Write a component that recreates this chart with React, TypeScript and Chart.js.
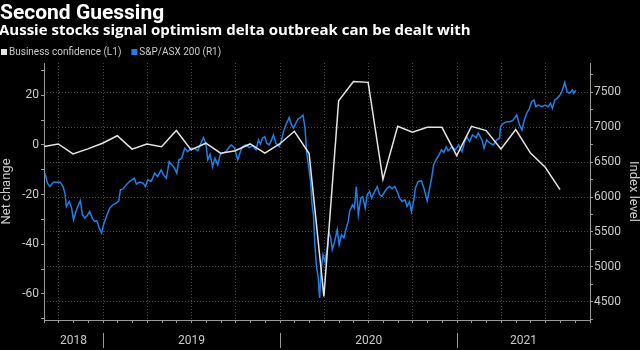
import React, { useEffect, useRef } from "react";
import { Chart, registerables } from "chart.js";

Chart.register(...registerables);

// ---------- DATA ----------
const TITLE = "Second Guessing";
const SUBTITLE = "Aussie stocks signal optimism delta outbreak can be dealt with";
const CONF_LABEL = "Business confidence (L1)";
const ASX_LABEL = "S&P/ASX 200 (R1)";
const LEFT_TITLE = "Net change";
const RIGHT_TITLE = "Index level";
const YEARS = [2018, 2019, 2020, 2021];

// x axis window (month-start dates)
const X_START = "2018-09-01";
const X_END = "2021-10-01";

// Business confidence, monthly (plotted at month end)
const confMonths = [
  "2018-08", "2018-09", "2018-10", "2018-11", "2018-12",
  "2019-01", "2019-02", "2019-03", "2019-04", "2019-05", "2019-06",
  "2019-07", "2019-08", "2019-09", "2019-10", "2019-11", "2019-12",
  "2020-01", "2020-02", "2020-03", "2020-04", "2020-05", "2020-06",
  "2020-07", "2020-08", "2020-09", "2020-10", "2020-11", "2020-12",
  "2021-01", "2021-02", "2021-03", "2021-04", "2021-05", "2021-06", "2021-07",
];
const confValues = [
  -0.7, 0.4, -3.6, -1.6, 0.7,
  3.7, -1.7, 0.4, -0.7, 5.8, -2.0,
  0.7, -3.3, -2.3, 0.4, -3.3, 0.4,
  5.5, -3.5, -61, 17.8, 25.5, 25.2,
  -13.9, 7.5, 5.1, 7.1, 7.1, -4.3,
  7.5, 5.8, -1.6, 6.2, -3.3, -9.0, -18.0,
];

// S&P/ASX 200 index level
const asxDates = [
  "2018-09-03", "2018-09-08", "2018-09-13", "2018-09-20", "2018-09-30", "2018-10-04", "2018-10-10", "2018-10-14",
  "2018-10-17", "2018-10-23", "2018-10-28", "2018-11-01", "2018-11-06", "2018-11-11", "2018-11-15", "2018-11-19",
  "2018-11-24", "2018-11-29", "2018-12-04", "2018-12-10", "2018-12-15", "2018-12-19", "2018-12-24", "2018-12-29",
  "2019-01-02", "2019-01-08", "2019-01-15", "2019-01-22", "2019-01-29", "2019-02-03", "2019-02-06", "2019-02-11",
  "2019-02-17", "2019-02-23", "2019-03-05", "2019-03-09", "2019-03-16", "2019-03-23", "2019-03-28", "2019-04-02",
  "2019-04-09", "2019-04-16", "2019-04-22", "2019-04-29", "2019-05-04", "2019-05-10", "2019-05-13", "2019-05-16",
  "2019-05-22", "2019-05-27", "2019-06-01", "2019-06-05", "2019-06-11", "2019-06-17", "2019-06-23", "2019-06-30",
  "2019-07-07", "2019-07-14", "2019-07-19", "2019-07-26", "2019-07-31", "2019-08-04", "2019-08-09", "2019-08-14",
  "2019-08-19", "2019-08-25", "2019-08-30", "2019-09-04", "2019-09-11", "2019-09-18", "2019-09-22", "2019-09-28",
  "2019-10-05", "2019-10-10", "2019-10-15", "2019-10-22", "2019-10-29", "2019-11-05", "2019-11-12", "2019-11-17",
  "2019-11-21", "2019-11-25", "2019-11-30", "2019-12-04", "2019-12-09", "2019-12-14", "2019-12-18", "2019-12-23",
  "2019-12-30", "2020-01-04", "2020-01-08", "2020-01-13", "2020-01-20", "2020-01-25", "2020-01-29", "2020-02-03",
  "2020-02-07", "2020-02-12", "2020-02-17", "2020-02-21", "2020-02-24", "2020-02-28", "2020-03-03", "2020-03-06",
  "2020-03-09", "2020-03-12", "2020-03-15", "2020-03-19", "2020-03-22", "2020-03-25", "2020-03-29", "2020-04-02",
  "2020-04-07", "2020-04-10", "2020-04-14", "2020-04-17", "2020-04-22", "2020-04-27", "2020-05-01", "2020-05-06",
  "2020-05-11", "2020-05-16", "2020-05-20", "2020-05-23", "2020-05-29", "2020-06-02", "2020-06-06", "2020-06-10",
  "2020-06-15", "2020-06-19", "2020-06-24", "2020-06-28", "2020-07-03", "2020-07-07", "2020-07-12", "2020-07-19",
  "2020-07-24", "2020-07-29", "2020-08-04", "2020-08-09", "2020-08-14", "2020-08-19", "2020-08-25", "2020-08-30",
  "2020-09-04", "2020-09-09", "2020-09-15", "2020-09-19", "2020-09-24", "2020-09-28", "2020-10-03", "2020-10-06",
  "2020-10-12", "2020-10-19", "2020-10-24", "2020-10-31", "2020-11-05", "2020-11-09", "2020-11-13", "2020-11-18",
  "2020-11-24", "2020-11-29", "2020-12-04", "2020-12-09", "2020-12-13", "2020-12-21", "2020-12-28", "2021-01-04",
  "2021-01-11", "2021-01-16", "2021-01-21", "2021-01-27", "2021-02-02", "2021-02-09", "2021-02-13", "2021-02-20",
  "2021-02-24", "2021-03-01", "2021-03-08", "2021-03-15", "2021-03-22", "2021-03-28", "2021-03-30", "2021-04-05",
  "2021-04-12", "2021-04-19", "2021-04-25", "2021-05-02", "2021-05-08", "2021-05-13", "2021-05-18", "2021-05-23",
  "2021-05-29", "2021-06-02", "2021-06-07", "2021-06-11", "2021-06-16", "2021-06-23", "2021-06-30", "2021-07-06",
  "2021-07-11", "2021-07-15", "2021-07-20", "2021-07-25", "2021-07-31", "2021-08-05", "2021-08-10", "2021-08-15",
  "2021-08-20", "2021-08-26", "2021-08-29", "2021-09-02",
];
const asxValues = [
  6342, 6199, 6150, 6213, 6213, 6213, 6150, 6056,
  5864, 5936, 5841, 5674, 5793, 5888, 5946, 5745,
  5698, 5735, 5793, 5688, 5650, 5660, 5555, 5484,
  5602, 5721, 5841, 5888, 5913, 5946, 6103, 6117,
  6174, 6222, 6270, 6184, 6213, 6199, 6150, 6246,
  6222, 6342, 6293, 6389, 6317, 6270, 6389, 6508,
  6460, 6413, 6342, 6530, 6556, 6699, 6651, 6699,
  6699, 6661, 6746, 6851, 6771, 6532, 6613, 6436,
  6556, 6460, 6603, 6627, 6651, 6722, 6746, 6708,
  6532, 6642, 6722, 6746, 6708, 6736, 6675, 6818,
  6756, 6842, 6865, 6771, 6746, 6818, 6889, 6771,
  6722, 6818, 6937, 7032, 7137, 7032, 6985, 7057,
  7118, 7137, 7175, 6985, 6651, 6440, 6222, 5900,
  5745, 5316, 5030, 4840, 4554, 4935, 5173, 5078,
  5269, 5507, 5412, 5245, 5364, 5531, 5316, 5460,
  5412, 5555, 5650, 5793, 5888, 5841, 6150, 5745,
  5984, 6007, 5841, 6031, 6079, 5984, 6056, 6150,
  6031, 6007, 6079, 6127, 6150, 6117, 6150, 6079,
  5984, 5936, 5960, 5864, 5936, 5793, 5960, 6127,
  6222, 6232, 6127, 5946, 6127, 6270, 6460, 6532,
  6603, 6675, 6640, 6720, 6660, 6722, 6675, 6746,
  6651, 6771, 6865, 6794, 6889, 6851, 6914, 6818,
  6699, 6818, 6771, 6746, 6818, 6842, 7008, 7057,
  7080, 7080, 7104, 7175, 7032, 6961, 7104, 7200,
  7271, 7366, 7390, 7294, 7318, 7294, 7318, 7294,
  7343, 7271, 7390, 7414, 7461, 7533, 7643, 7509,
  7486, 7533, 7486, 7533,
];

// axis ranges
const LEFT_MIN = -70.5;
const LEFT_MAX = 33;
const RIGHT_MIN = 4238;
const RIGHT_MAX = 7920;

// ---------- helpers ----------
function daysIn(y: number, m: number) {
  return new Date(y, m, 0).getDate();
}
// months since Sep 2018 (fractional)
function dayToMonth(s: string) {
  const [y, m, d] = s.split("-").map(Number);
  return (y - 2018) * 12 + (m - 9) + (d - 1) / daysIn(y, m);
}
function monthEnd(s: string) {
  const [y, m] = s.split("-").map(Number);
  const dim = daysIn(y, m);
  return (y - 2018) * 12 + (m - 9) + (dim - 1) / dim;
}

const FONT = "Roboto, 'Open Sans', sans-serif";
const HEAD_FONT = "'Open Sans', Roboto, sans-serif";
const TEXT = "#c9c9c9";
const AXIS = "#9a9a9a";
const GRID = "rgba(140,140,140,0.5)";
const WHITE_LINE = "#e4e4e4";
const BLUE_LINE = "#1f7fe6";

const headerPlugin = {
  id: "header",
  afterDraw(chart: any) {
    const ctx = chart.ctx;
    ctx.save();
    ctx.textAlign = "left";
    ctx.textBaseline = "alphabetic";
    ctx.fillStyle = "#ffffff";
    ctx.font = `bold 21px ${FONT}`;
    ctx.fillText(TITLE, 0, 19);
    ctx.font = `bold 15px ${HEAD_FONT}`;
    ctx.fillText(SUBTITLE, -1, 35);
    // legend
    ctx.font = `10px ${FONT}`;
    ctx.textBaseline = "middle";
    let x = 1;
    chart.data.datasets.forEach((ds: any) => {
      ctx.fillStyle = ds.borderColor;
      ctx.fillRect(x, 49, 6, 6);
      ctx.fillStyle = TEXT;
      ctx.fillText(ds.label, x + 8, 52.5);
      x += 8 + ctx.measureText(ds.label).width + 10;
    });
    ctx.restore();
  },
};

const yearPlugin = {
  id: "years",
  afterDraw(chart: any) {
    const xs = chart.scales.x;
    const ctx = chart.ctx;
    ctx.save();
    ctx.fillStyle = TEXT;
    ctx.strokeStyle = AXIS;
    ctx.lineWidth = 1;
    ctx.font = `12px ${FONT}`;
    ctx.textAlign = "center";
    ctx.textBaseline = "middle";
    YEARS.forEach((yr) => {
      const a = Math.max(dayToMonth(`${yr}-01-01`), xs.min);
      const b = Math.min(dayToMonth(`${yr + 1}-01-01`), xs.max);
      const mid = (xs.getPixelForValue(a) + xs.getPixelForValue(b)) / 2;
      ctx.fillText(String(yr), mid, 341);
      const sep = dayToMonth(`${yr}-01-01`);
      if (sep > xs.min && sep < xs.max) {
        const px = Math.round(xs.getPixelForValue(sep)) + 0.5;
        ctx.beginPath();
        ctx.moveTo(px, 333);
        ctx.lineTo(px, 348);
        ctx.stroke();
      }
    });
    ctx.restore();
  },
};

export default function App() {
  const ref = useRef<HTMLCanvasElement>(null);

  useEffect(() => {
    document.body.style.margin = "0";
    document.body.style.background = "#000";
    const canvas = ref.current;
    if (!canvas) return;

    const confData = confMonths.map((m, i) => ({ x: monthEnd(m), y: confValues[i] }));
    const asxData = asxDates.map((d, i) => ({ x: dayToMonth(d), y: asxValues[i] }));

    const chart = new Chart(canvas, {
      type: "line",
      data: {
        datasets: [
          {
            label: CONF_LABEL,
            data: confData,
            yAxisID: "y",
            borderColor: WHITE_LINE,
            backgroundColor: WHITE_LINE,
            borderWidth: 1.5,
            pointRadius: 0,
            tension: 0,
          },
          {
            label: ASX_LABEL,
            data: asxData,
            yAxisID: "y1",
            borderColor: BLUE_LINE,
            backgroundColor: BLUE_LINE,
            borderWidth: 1.5,
            pointRadius: 0,
            tension: 0,
          },
        ],
      },
      options: {
        responsive: false,
        animation: false,
        parsing: false,
        layout: { padding: { top: 63, left: 0, right: 0, bottom: 0 } },
        plugins: {
          legend: { display: false },
          tooltip: { enabled: false },
          title: { display: false },
        },
        scales: {
          x: {
            type: "linear",
            position: "bottom",
            min: dayToMonth(X_START),
            max: dayToMonth(X_END),
            afterFit: (s: any) => {
              s.height = 30;
            },
            ticks: {
              stepSize: 1,
              includeBounds: false,
              autoSkip: false,
              maxRotation: 0,
              callback: () => "",
            },
            grid: {
              drawOnChartArea: true,
              color: (c: any) =>
                c.tick && Math.round(c.tick.value) % 3 === 1 ? GRID : "transparent",
              tickColor: AXIS,
              tickLength: 3,
              lineWidth: 1,
            },
            border: { display: true, color: AXIS, width: 1, dash: [1, 2] },
          },
          y: {
            type: "linear",
            position: "left",
            min: LEFT_MIN,
            max: LEFT_MAX,
            afterFit: (s: any) => {
              s.width = 44;
            },
            ticks: {
              stepSize: 10,
              includeBounds: false,
              autoSkip: false,
              color: TEXT,
              font: { family: FONT, size: 12 },
              padding: 2,
              callback: (v: any) => (Math.round(v) % 20 === 0 ? String(v) : ""),
            },
            grid: {
              drawOnChartArea: false,
              tickColor: AXIS,
              tickLength: 3,
            },
            border: { display: true, color: AXIS, width: 1 },
            title: {
              display: true,
              text: LEFT_TITLE,
              color: TEXT,
              font: { family: FONT, size: 13, lineHeight: 1 },
              padding: { top: 0, bottom: 0 },
            },
          },
          y1: {
            type: "linear",
            position: "right",
            min: RIGHT_MIN,
            max: RIGHT_MAX,
            afterFit: (s: any) => {
              s.width = 50;
            },
            ticks: {
              stepSize: 250,
              includeBounds: false,
              autoSkip: false,
              color: TEXT,
              font: { family: FONT, size: 12 },
              padding: 1,
              callback: (v: any) => (Math.round(v) % 500 === 0 ? String(v) : ""),
            },
            grid: {
              drawOnChartArea: true,
              color: (c: any) =>
                c.tick && Math.round(c.tick.value) % 500 === 0 ? GRID : "transparent",
              tickColor: AXIS,
              tickLength: 3,
            },
            border: { display: true, color: AXIS, width: 1, dash: [1, 2] },
            title: {
              display: true,
              text: RIGHT_TITLE,
              color: TEXT,
              font: { family: FONT, size: 13, lineHeight: 1 },
              padding: { top: 0, bottom: 0 },
            },
          },
        },
      },
      plugins: [headerPlugin, yearPlugin],
    } as any);

    return () => chart.destroy();
  }, []);

  return (
    <div style={{ width: 640, height: 350, background: "#000" }}>
      <canvas ref={ref} width={640} height={350} style={{ display: "block" }} />
    </div>
  );
}
